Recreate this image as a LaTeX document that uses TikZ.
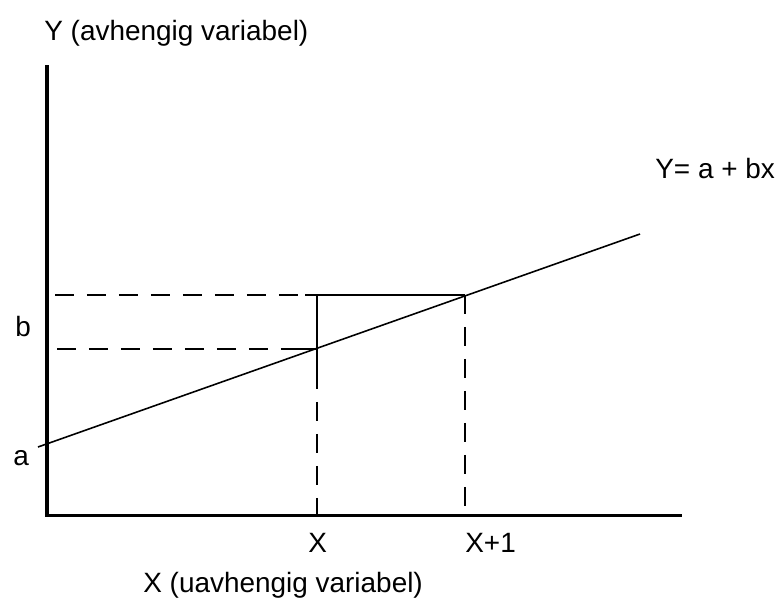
\documentclass[tikz,border=0pt]{standalone}
\usepackage{fontspec}
\setmainfont{Liberation Sans}
\usepackage{tikz}
\usetikzlibrary{positioning,calc}
\newcommand{\lblfont}{\fontsize{15.9}{19}\selectfont}
\tikzset{
  axisy/.style={line width=2.8pt, line cap=rect},
  axisx/.style={line width=1.7pt, line cap=rect},
  regline/.style={line width=0.9pt},
  stepline/.style={line width=1.1pt},
  guide/.style={line width=1.1pt, dash pattern=on 10.8pt off 7.4pt},
  lbl/.style={font=\lblfont, inner sep=0pt, anchor=base west}
}
\begin{document}
\begin{tikzpicture}[x=0.02cm, y=-0.02cm]
  \useasboundingbox (0,0) rectangle (782,603);
  % axes
  \coordinate (origin) at (47,515);
  \coordinate (ytop) at (47,67);
  \coordinate (xend) at (681,515);
  \draw[axisy] (origin) -- (ytop);
  \draw[axisx] (origin) -- (xend);
  % regression line
  \coordinate (lstart) at (38,447);
  \coordinate (lend) at (640,234);
  \draw[regline] (lstart) -- (lend);
  % points on the line
  \coordinate (px) at (317,349);
  \coordinate (pxx) at (465,295);
  \coordinate (pxtop) at (317,295);
  \coordinate (pxlow) at (317,370);
  \coordinate (hb) at (55,295);
  \coordinate (hbend) at (305,295);
  \coordinate (ha) at (57,349);
  \coordinate (haend) at (298,349);
  \coordinate (xfoot) at (317,515);
  \coordinate (xxfoot) at (465,515);
  % solid step
  \draw[stepline] (hbend) -- (pxx);
  \draw[stepline] (pxtop) -- (pxlow);
  \draw[stepline] (haend) -- (px);
  % dashed guides
  \draw[guide] (hb) -- (hbend);
  \draw[guide] (ha) -- (haend);
  \draw[guide] (pxlow) -- (xfoot);
  \draw[guide] (pxx) -- (xxfoot);
  % labels
  \node[lbl] (ylab) at (44,40) {Y (avhengig variabel)};
  \node[lbl] (eq) at (655,178) {Y= a + bx};
  \node[lbl] (blab) at (15,336) {b};
  \node[lbl] (alab) at (13,465) {a};
  \node[lbl] (xlab) at (308,552) {X};
  \node[lbl] (xxlab) at (465,552) {X+1};
  \node[lbl] (xaxlab) at (143,592) {X (uavhengig variabel)};
\end{tikzpicture}
\end{document}
